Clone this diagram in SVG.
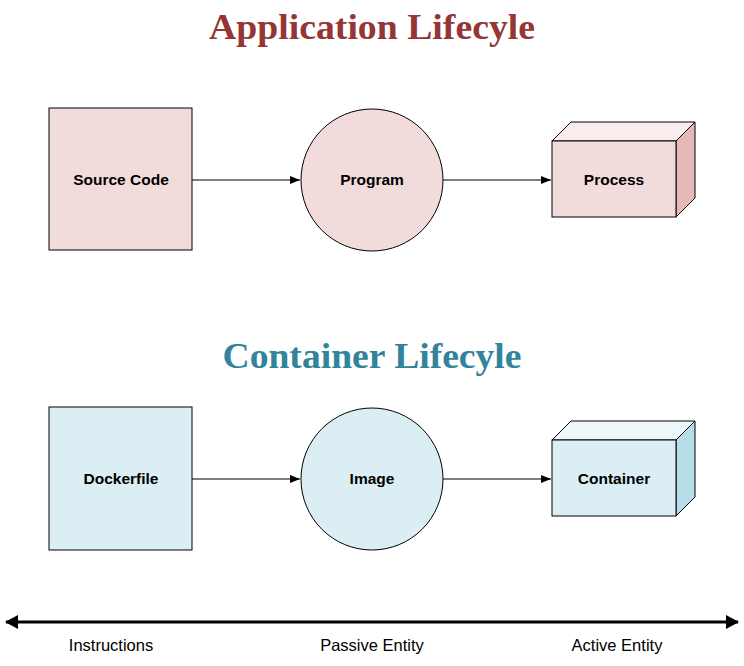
<svg xmlns="http://www.w3.org/2000/svg" width="744" height="666" viewBox="0 0 744 666">
<defs>
<style>
.title{font-family:"Liberation Serif",serif;font-weight:bold;font-size:35px;text-anchor:middle}
.lbl{font-family:"Liberation Sans",Arial,sans-serif;font-weight:bold;font-size:15.5px;text-anchor:middle;fill:#000}
.ax{font-family:"Liberation Sans",Arial,sans-serif;font-size:16.5px;text-anchor:middle;fill:#000}
.s{stroke:#000;stroke-width:1}
.pk{fill:#f2dcdb}.pkt{fill:#f8edec}.pks{fill:#e6b9b8}
.bl{fill:#dbeef4}.blt{fill:#edf7fa}.bls{fill:#b7dee8}
.conn{stroke:#000;stroke-width:1;fill:none;marker-end:url(#ah)}
</style>
<marker id="ah" markerWidth="10" markerHeight="8" refX="10" refY="4" orient="auto" markerUnits="userSpaceOnUse">
<path d="M0,0 L10,4 L0,8 Z" fill="#000"/>
</marker>
<marker id="big" markerWidth="14" markerHeight="14" refX="12" refY="7" orient="auto-start-reverse" markerUnits="userSpaceOnUse">
<path d="M0,0 L13,7 L0,14 Z" fill="#000"/>
</marker>
</defs>
<rect width="744" height="666" fill="#fff"/>
<text class="title" x="372" y="39" fill="#943634" textLength="326" lengthAdjust="spacingAndGlyphs">Application Lifecyle</text>
<text class="title" x="372" y="368" fill="#31849b" textLength="299" lengthAdjust="spacingAndGlyphs">Container Lifecyle</text>

<g id="connectors">
<line class="conn" x1="192" y1="180" x2="300" y2="180"/>
<line class="conn" x1="443" y1="180" x2="551" y2="180"/>
<line class="conn" x1="192" y1="479" x2="300" y2="479"/>
<line class="conn" x1="443" y1="479" x2="551" y2="479"/>
<line x1="6" y1="622" x2="738" y2="622" stroke="#000" stroke-width="3" marker-start="url(#big)" marker-end="url(#big)"/>
</g>

<g id="source-code">
<rect class="pk s" x="49" y="108" width="143" height="142"/>
<text class="lbl" x="121" y="185">Source Code</text>
</g>
<g id="program">
<circle class="pk s" cx="372" cy="180" r="71"/>
<text class="lbl" x="372" y="185">Program</text>
</g>
<g id="process">
<polygon class="pkt s" points="552,141 571,122 695,122 676,141"/>
<polygon class="pks s" points="676,141 695,122 695,198 676,217"/>
<rect class="pk s" x="552" y="141" width="124" height="76"/>
<text class="lbl" x="614" y="185">Process</text>
</g>

<g id="dockerfile">
<rect class="bl s" x="49" y="407" width="143" height="143"/>
<text class="lbl" x="121" y="484">Dockerfile</text>
</g>
<g id="image">
<circle class="bl s" cx="372" cy="479" r="71"/>
<text class="lbl" x="372" y="484">Image</text>
</g>
<g id="container">
<polygon class="blt s" points="552,440 571,421 695,421 676,440"/>
<polygon class="bls s" points="676,440 695,421 695,497 676,516"/>
<rect class="bl s" x="552" y="440" width="124" height="76"/>
<text class="lbl" x="614" y="484">Container</text>
</g>

<g id="axis-labels">
<text class="ax" x="111" y="651">Instructions</text>
<text class="ax" x="372" y="651">Passive Entity</text>
<text class="ax" x="617" y="651">Active Entity</text>
</g>
</svg>
